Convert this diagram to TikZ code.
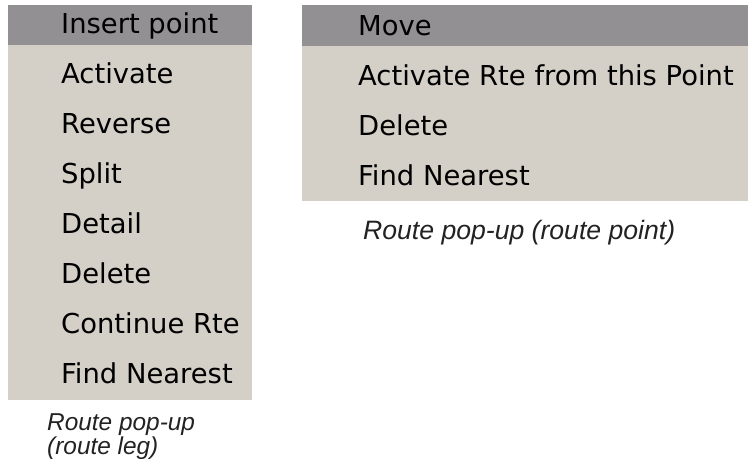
\documentclass[tikz,border=0pt]{standalone}
\usepackage{fontspec}
\usetikzlibrary{positioning}
\newfontfamily\menufont{DejaVu Sans}
\newfontfamily\capfont{Liberation Sans}
\definecolor{menubg}{RGB}{212,208,200}
\definecolor{menuhi}{RGB}{146,144,146}
\definecolor{captext}{RGB}{34,34,34}

\begin{document}
\begin{tikzpicture}[x=1pt,y=1pt,
	menubox/.style={fill=menubg,draw=none,inner sep=0pt,anchor=north west},
	hibox/.style={fill=menuhi,draw=none,inner sep=0pt,anchor=north west},
	item/.style={anchor=base west,inner sep=0pt,text=black,font=\menufont\fontsize{27.4}{30}\selectfont},
	caption/.style={anchor=base west,inner sep=0pt,text=captext,font=\capfont\itshape\fontsize{24.4}{25}\selectfont}
	]
	\useasboundingbox (0,0) rectangle (748,-466);

	% route leg menu
	\node[menubox,minimum width=244pt,minimum height=395pt] (legmenu) at (8,-5) {};
	\node[hibox,minimum width=244pt,minimum height=40pt] (leghi) at (8,-5) {};

	\node[item] (insert) at (61,-33) {Insert point};
	\node[item] (activate) at (61,-83) {Activate};
	\node[item] (reverse) at (61,-133) {Reverse};
	\node[item] (split) at (61,-183) {Split};
	\node[item] (detail) at (61,-233) {Detail};
	\node[item] (legdelete) at (61,-283) {Delete};
	\node[item] (continue) at (61,-333) {Continue Rte};
	\node[item] (legfind) at (61,-383) {Find Nearest};

	\node[caption] (legcapa) at (47,-430) {Route pop-up};
	\node[caption] (legcapb) at (47,-454) {(route leg)};

	% route point menu
	\node[menubox,minimum width=446pt,minimum height=196pt] (ptmenu) at (302,-5) {};
	\node[hibox,minimum width=446pt,minimum height=41pt] (pthi) at (302,-5) {};

	\node[item] (move) at (358,-35) {Move};
	\node[item] (actfrom) at (358,-85) {Activate Rte from this Point};
	\node[item] (ptdelete) at (358,-135) {Delete};
	\node[item] (ptfind) at (358,-185) {Find Nearest};

	\node[caption,font=\capfont\itshape\fontsize{26.6}{27}\selectfont] (ptcap) at (363,-239) {Route pop-up (route point)};
\end{tikzpicture}
\end{document}
